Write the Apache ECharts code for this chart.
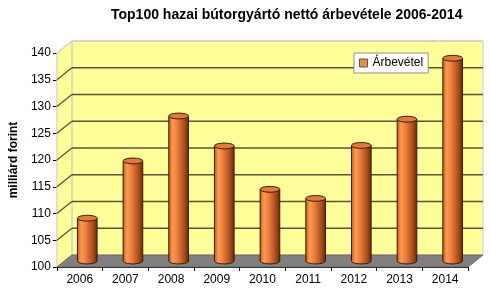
<!DOCTYPE html>
<html><head><meta charset="utf-8">
<script src="https://cdn.jsdelivr.net/npm/echarts@6/dist/echarts.min.js"></script>
<style>html,body{margin:0;padding:0;background:#fff}#c{width:490px;height:289px}</style>
</head><body><div id="c"></div>
<script>
const categories = ['2006','2007','2008','2009','2010','2011','2012','2013','2014'];
const revenue = [108.0, 118.7, 127.1, 121.5, 113.4, 111.7, 121.6, 126.5, 137.9];
const yTicks = [100,105,110,115,120,125,130,135,140];
const seriesName = 'Árbevétel';

const DX = 15, DY = -12;
const FONT = 'Liberation Sans, Arial, sans-serif';
const chart = echarts.init(document.getElementById('c'), null, {renderer:'canvas'});

function frameItem(params, api) {
  const v = api.value(1);
  const cs = params.coordSys;
  const left = cs.x, right = cs.x + cs.width;
  const y = api.coord([0, v])[1];
  const children = [];
  if (params.dataIndex === 0) {
    const yTop = api.coord([0, yTicks[yTicks.length-1]])[1];
    const yBot = y;
    children.push({type:'polygon', shape:{points:[[left+DX,yTop+DY],[right+DX,yTop+DY],[right+DX,yBot+DY],[left+DX,yBot+DY]]},
      style:{fill:'#FFFF99', stroke:'#C8C8C8', lineWidth:1}});
    children.push({type:'polygon', shape:{points:[[left,yTop],[left+DX,yTop+DY],[left+DX,yBot+DY],[left,yBot]]},
      style:{fill:'#FFFF99', stroke:'#C8C8C8', lineWidth:1}});
    children.push({type:'polygon', shape:{points:[[left,yBot],[right,yBot],[right+DX,yBot+DY],[left+DX,yBot+DY]]},
      style:{fill:'#808080', stroke:'#6a6a6a', lineWidth:1}});
    return {type:'group', children};
  }
  const isTop = params.dataIndex === yTicks.length - 1;
  const col = isTop ? '#C8C8C8' : '#55553a';
  const lw = isTop ? 1 : 1.3;
  children.push({type:'line', shape:{x1:left, y1:y, x2:left+DX, y2:y+DY}, style:{stroke:col, lineWidth:lw}});
  children.push({type:'line', shape:{x1:left+DX, y1:y+DY, x2:right+DX, y2:y+DY}, style:{stroke:col, lineWidth:lw}});
  return {type:'group', children};
}

function barItem(params, api) {
  const i = api.value(0), v = api.value(1);
  const top = api.coord([i, v]);
  const bot = api.coord([i, yTicks[0]]);
  const w = api.size([1, 0])[0] * 0.43;
  const cx = top[0] + DX/2;
  const ty = top[1] + DY/2, by = bot[1] + DY/2;
  const rx = w/2, ry = 2.9;
  const grad = new echarts.graphic.LinearGradient(0,0,1,0,[
    {offset:0, color:'#C0601E'},
    {offset:0.2, color:'#FF9A50'},
    {offset:0.45, color:'#E87C3C'},
    {offset:0.8, color:'#A84C1A'},
    {offset:1, color:'#6A2C0A'}
  ]);
  return {type:'group', children:[
    {type:'ellipse', shape:{cx:cx, cy:by, rx:rx, ry:ry}, style:{fill:grad, stroke:'#3A1A05', lineWidth:1}},
    {type:'rect', shape:{x:cx-rx, y:ty, width:w, height:by-ty}, style:{fill:grad, stroke:null}},
    {type:'line', shape:{x1:cx-rx, y1:ty, x2:cx-rx, y2:by}, style:{stroke:'#3A1A05', lineWidth:1}},
    {type:'line', shape:{x1:cx+rx, y1:ty, x2:cx+rx, y2:by}, style:{stroke:'#3A1A05', lineWidth:1}},
    {type:'ellipse', shape:{cx:cx, cy:ty, rx:rx, ry:ry}, style:{fill:'#E07A38', stroke:'#3A1A05', lineWidth:1}}
  ]};
}

chart.setOption({
  animation:false,
  textStyle:{fontFamily:FONT},
  title:{text:'Top100 hazai bútorgyártó nettó árbevétele 2006-2014', left:106, top:3,
    textStyle:{fontSize:14, fontWeight:'bold', color:'#000', fontFamily:FONT}},
  legend:{data:[seriesName], left:354, top:53, backgroundColor:'#fff', borderColor:'#909090', borderWidth:1,
    padding:[4,5,4,5], itemWidth:8, itemHeight:8, itemGap:5, icon:'rect',
    itemStyle:{borderColor:'#555', borderWidth:1},
    textStyle:{fontSize:12, color:'#000', fontFamily:FONT}},
  graphic:[{type:'text', right:8, top:41, style:{text:'FATÁJ-grafika', fill:'#FF7A1A', font:'bold 11px '+FONT}}],
  grid:{left:52, right:22, top:53, bottom:22, containLabel:false},
  xAxis:{type:'category', data:categories, boundaryGap:true,
    axisLine:{lineStyle:{color:'#000', width:1}}, axisTick:{show:true, length:4, lineStyle:{color:'#000'}},
    axisLabel:{fontSize:12, color:'#000', margin:7, fontFamily:FONT}, splitLine:{show:false}},
  yAxis:{type:'value', min:100, max:140, interval:5,
    name:'milliárd forint', nameLocation:'middle', nameGap:35, nameRotate:90,
    nameTextStyle:{fontSize:12, fontWeight:'bold', color:'#000', fontFamily:FONT},
    axisLine:{show:true, lineStyle:{color:'#000'}}, axisTick:{show:true, length:4, lineStyle:{color:'#000'}},
    axisLabel:{fontSize:12, color:'#000', margin:6, fontFamily:FONT}, splitLine:{show:false}},
  series:[
    {type:'custom', name:'frame', renderItem:frameItem, data:yTicks.map(v=>[0,v]), clip:false, z:1, silent:true},
    {type:'custom', name:seriesName, renderItem:barItem, data:revenue.map((v,i)=>[i,v]), clip:false, z:3,
      itemStyle:{color:'#F08A48'}}
  ]
});
</script></body></html>
